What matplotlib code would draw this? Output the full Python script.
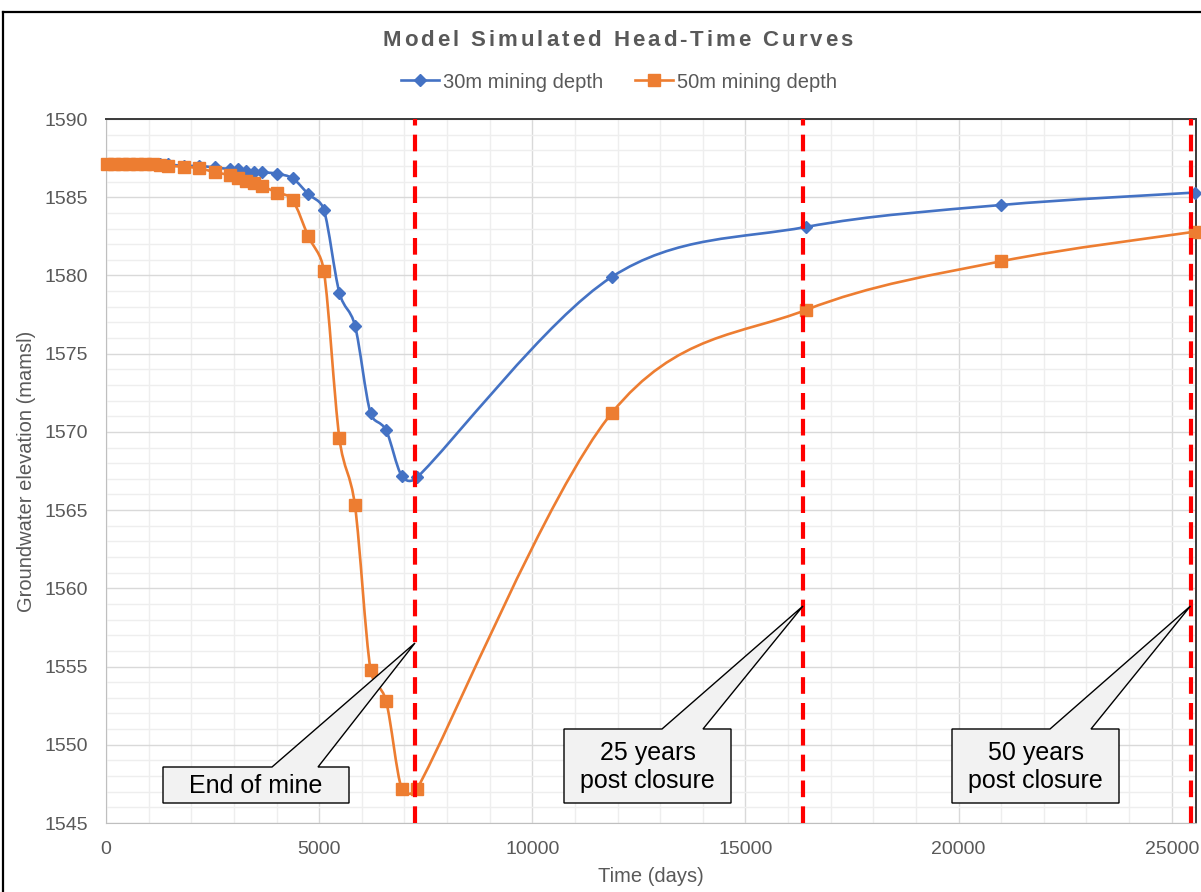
import matplotlib
matplotlib.use("Agg")
import numpy as np
import matplotlib.pyplot as plt
from matplotlib.path import Path
from matplotlib.patches import PathPatch, Polygon
from matplotlib.lines import Line2D

plt.rcParams["font.family"] = ["Liberation Sans", "DejaVu Sans"]

# time in days (same sampling for both runs)
days = [30, 182.5, 365, 547.5, 730, 912.5, 1095, 1277.5, 1460, 1825, 2190, 2555,
        2920, 3102.5, 3285, 3467.5, 3650, 4015, 4380, 4745, 5110, 5475, 5840,
        6205, 6570, 6935, 7300, 11862.5, 16425, 20987.5, 25550]

head_30m = [1587.1, 1587.1, 1587.1, 1587.1, 1587.1, 1587.1, 1587.1, 1587.1, 1587.1,
            1587.0, 1587.0, 1586.9, 1586.8, 1586.8, 1586.7, 1586.6, 1586.6, 1586.5,
            1586.2, 1585.2, 1584.2, 1578.9, 1576.8, 1571.2, 1570.1, 1567.2, 1567.1,
            1579.9, 1583.1, 1584.5, 1585.3]

head_50m = [1587.1, 1587.1, 1587.1, 1587.1, 1587.1, 1587.1, 1587.1, 1587.05, 1587.0,
            1586.95, 1586.85, 1586.6, 1586.4, 1586.2, 1586.05, 1585.9, 1585.7, 1585.3,
            1584.8, 1582.5, 1580.3, 1569.6, 1565.3, 1554.8, 1552.8, 1547.2, 1547.2,
            1571.2, 1577.8, 1580.9, 1582.8]

series_labels = ["30m mining depth", "50m mining depth"]

# vertical markers: end of mine, 25 and 50 years after closure
event_days = [7240, 16340, 25445]
callout_texts = ["End of mine", "25 years\npost closure", "50 years\npost closure"]

BLUE = "#4472c4"
ORANGE = "#ed7d31"
GREY_TXT = "#595959"

W, H = 1201, 892
fig = plt.figure(figsize=(W / 100, H / 100), dpi=100)
ax = fig.add_axes([106 / W, 1 - 823 / H, 1090 / W, 704 / H])

ax.set_xlim(0, 25570)
ax.set_ylim(1545, 1590)
ax.set_xticks(np.arange(0, 25001, 5000))
ax.set_xticks(np.arange(0, 25001, 1000), minor=True)
ax.set_yticks(np.arange(1545, 1591, 5))
ax.set_yticks(np.arange(1545, 1591, 1), minor=True)
ax.grid(which="major", color="#d9d9d9", lw=1.0, zorder=0)
ax.grid(which="minor", color="#eeeeee", lw=1.0, zorder=0)
ax.set_axisbelow(True)
ax.tick_params(which="both", length=0)
ax.tick_params(axis="y", pad=13, labelsize=14, labelcolor=GREY_TXT)
ax.tick_params(axis="x", pad=13, labelsize=14, labelcolor=GREY_TXT)
for side in ["left", "bottom"]:
    ax.spines[side].set_color("#bfbfbf")
for side in ["top", "right"]:
    ax.spines[side].set_color("#3a3a3a")
    ax.spines[side].set_linewidth(1.4)

ax.set_xlabel("Time (days)", fontsize=14.5, color=GREY_TXT)
ax.set_ylabel("Groundwater elevation (mamsl)", fontsize=14.5, color=GREY_TXT)
ax.xaxis.set_label_coords(0.5, (823 - 867) / 704)
ax.yaxis.set_label_coords((36 - 106) / 1090, 0.5)


def smooth_path(x, y, k=0.5):
    """Excel-like smoothed line: Catmull-Rom Bezier built in display space."""
    pts = ax.transData.transform(np.column_stack([x, y]))
    n = len(pts)
    verts = [pts[0]]
    codes = [Path.MOVETO]
    for i in range(n - 1):
        p0 = pts[max(i - 1, 0)]
        p1, p2 = pts[i], pts[i + 1]
        p3 = pts[min(i + 2, n - 1)]
        seg = np.linalg.norm(p2 - p1)
        t1 = (p2 - p0) / 6
        t2 = (p3 - p1) / 6
        for t in (t1, t2):
            L = np.linalg.norm(t)
            if L > k * seg and L > 0:
                t *= k * seg / L
        verts += [p1 + t1, p2 - t2, p2]
        codes += [Path.CURVE4] * 3
    verts = ax.transData.inverted().transform(np.array(verts))
    return Path(verts, codes)


for heads, col, mk, ms in [(head_30m, BLUE, "D", 6.5), (head_50m, ORANGE, "s", 8.2)]:
    ax.add_patch(PathPatch(smooth_path(days, heads), fill=False, edgecolor=col,
                           lw=1.9, zorder=3, capstyle="round", joinstyle="round"))
    ax.plot(days, heads, ls="none", marker=mk, ms=ms, color=col, zorder=4,
            clip_on=False)

for d in event_days:
    ax.axvline(d, color="#ff0000", lw=3, ls=(0, (4, 2.2)), zorder=5)


def px2data(px, py):
    inv = ax.transData.inverted()
    return inv.transform((px, H - py))


def callout(box, base, tip, text):
    # box = (left, top, right, bottom) px ; base = (x1, x2) px on top edge ; tip = (x, y) px
    l, t, r, b = box
    poly_px = [(l, b), (r, b), (r, t), (base[1], t), tip, (base[0], t), (l, t)]
    poly = [px2data(*p) for p in poly_px]
    ax.add_patch(Polygon(poly, closed=True, facecolor="#f2f2f2", edgecolor="black",
                         lw=1.0, zorder=6, clip_on=False))
    cx, cy = px2data((l + r) / 2, (t + b) / 2 + 1)
    ax.text(cx, cy, text, ha="center", va="center", fontsize=18, color="black",
            linespacing=1.18, zorder=7)


callout((163, 767, 349, 803), (272, 318), (415, 643), callout_texts[0])
callout((564, 729, 731, 803), (662, 703), (803, 606), callout_texts[1])
callout((952, 729, 1119, 803), (1050, 1091), (1190.5, 606), callout_texts[2])


def spaced_title(s, xc, y_base, spacing, **kw):
    r = fig.canvas.get_renderer()

    def width(t):
        tt = fig.text(0, 0, t + "|", **kw)
        w = tt.get_window_extent(r).width
        tt.remove()
        return w

    bar = width("")
    adv = [width(s[:i]) - bar for i in range(len(s) + 1)]
    total = adv[-1] + spacing * (len(s) - 1)
    x0 = xc - total / 2
    for i, ch in enumerate(s):
        if ch != " ":
            fig.text((x0 + adv[i] + i * spacing) / W, 1 - y_base / H, ch,
                     ha="left", va="baseline", **kw)


spaced_title("Model Simulated Head-Time Curves", 617.5, 46, 3.0,
             fontsize=16, fontweight="bold", color=GREY_TXT)

handles = [Line2D([], [], color=BLUE, lw=1.9, marker="D", ms=6.5),
           Line2D([], [], color=ORANGE, lw=1.9, marker="s", ms=8.2)]
fig.legend(handles, series_labels, loc="center", bbox_to_anchor=(619 / W, 1 - 82 / H),
           ncol=2, frameon=False, fontsize=14.5, handlelength=1.9, handletextpad=0.2,
           columnspacing=1.6, labelcolor=GREY_TXT)

# outer chart frame (only top and left edges are inside the crop)
fig.add_artist(Line2D([3 / W, 1], [1 - 12 / H, 1 - 12 / H], transform=fig.transFigure,
                      color="black", lw=1.6))
fig.add_artist(Line2D([3 / W, 3 / W], [0, 1 - 12 / H], transform=fig.transFigure,
                      color="black", lw=1.6))

fig.savefig("out.png", dpi=100)
